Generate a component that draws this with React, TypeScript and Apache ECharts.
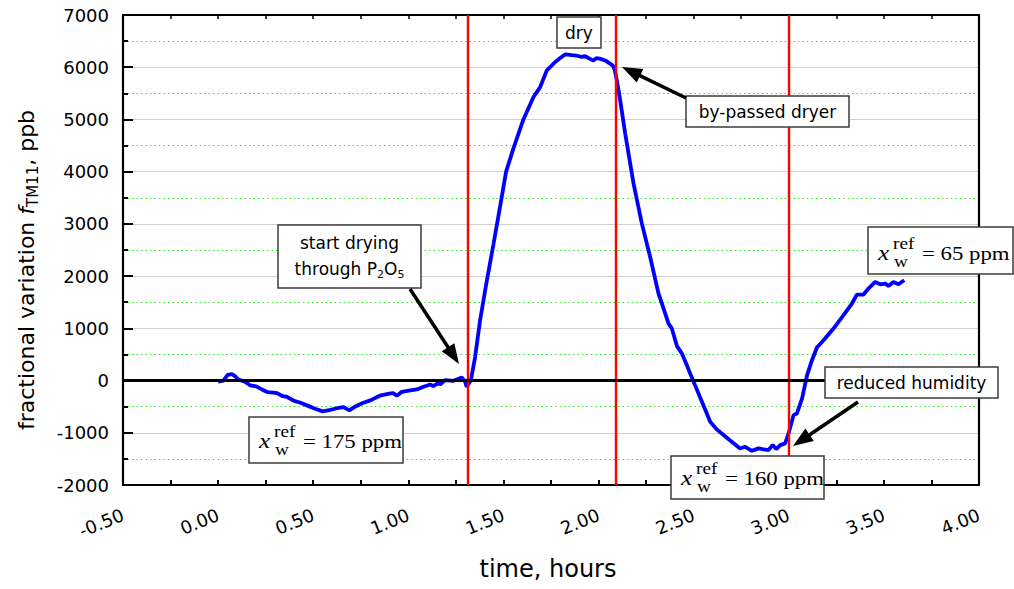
import React, { useEffect, useRef } from "react";
import * as echarts from "echarts";

// ---- data ----
const timeHours = [
  0.0, 0.028, 0.05, 0.072, 0.09, 0.107, 0.14, 0.168, 0.2, 0.23, 0.258, 0.29, 0.31, 0.34, 0.36, 0.4, 0.43,
  0.47, 0.51, 0.55, 0.59, 0.625, 0.66, 0.69, 0.72, 0.76, 0.8, 0.85, 0.9, 0.92, 0.94, 0.966, 1.01, 1.045,
  1.08, 1.115, 1.132, 1.158, 1.167, 1.193, 1.237, 1.281, 1.299, 1.307, 1.329, 1.351, 1.377, 1.413, 1.448,
  1.488, 1.514, 1.553, 1.605, 1.658, 1.693, 1.728, 1.772, 1.8, 1.824, 1.86, 1.886, 1.91, 1.93, 1.955,
  1.973, 1.99, 2.01, 2.035, 2.06, 2.075, 2.085, 2.096, 2.114, 2.14, 2.184, 2.228, 2.271, 2.315, 2.368,
  2.385, 2.412, 2.438, 2.46, 2.48, 2.5, 2.543, 2.587, 2.62, 2.657, 2.7, 2.744, 2.771, 2.806, 2.841, 2.87,
  2.893, 2.916, 2.934, 2.955, 2.981, 2.999, 3.025, 3.043, 3.07, 3.096, 3.122, 3.148, 3.183, 3.235, 3.288,
  3.332, 3.358, 3.393, 3.419, 3.454, 3.481, 3.507, 3.524, 3.55, 3.577, 3.607,
];
const variationPpb = [
  -20, 0, 110, 125, 80, 20, -20, -90, -110, -170, -220, -230, -240, -300, -310, -390, -420,
  -480, -540, -590, -560, -530, -510, -570, -500, -430, -380, -290, -250, -240, -290, -216, -190, -170,
  -120, -75, -107, -44, -75, 8, -5, 59, -25, -120, 8, 450, 1150, 1920, 2620,
  3450, 4000, 4450, 5000, 5430, 5620, 5940, 6100, 6180, 6245, 6230, 6220, 6200, 6210, 6160,
  6130, 6175, 6160, 6130, 6070, 6030, 5950, 5750, 5360, 4730, 3770, 3000, 2370, 1670, 1090,
  1000, 660, 520, 330, 150, -25, -400, -790, -930, -1044, -1170, -1300, -1268, -1345, -1299, -1320,
  -1331, -1236, -1312, -1236, -1203, -1012, -662, -630, -340, 100, 390, 633, 773, 996, 1251,
  1475, 1647, 1647, 1762, 1888, 1844, 1857, 1811, 1888, 1844, 1920,
];
const markerTimes = [1.314, 2.093, 2.995];
const xMin = -0.5;
const xMax = 4.0;
const xStep = 0.5;
const yMin = -2000;
const yMax = 7000;
const yStep = 1000;
const xwLabels = ["= 175 ppm", "= 160 ppm", "= 65 ppm"];

const SANS = '"DejaVu Sans"';
const SERIF = '"Liberation Serif"';

function arrow(x1: number, y1: number, x2: number, y2: number) {
  const headLen = 20, headW = 15;
  const dx = x2 - x1, dy = y2 - y1;
  const len = Math.hypot(dx, dy);
  const ux = dx / len, uy = dy / len;
  const nx = -uy, ny = ux;
  const bx = x2 - ux * headLen, by = y2 - uy * headLen;
  return [
    { type: "line", z: 100, shape: { x1, y1, x2: bx + ux * 3, y2: by + uy * 3 }, style: { stroke: "#000", lineWidth: 3.5 } },
    {
      type: "polygon", z: 100,
      shape: { points: [[x2, y2], [bx + (nx * headW) / 2, by + (ny * headW) / 2], [bx - (nx * headW) / 2, by - (ny * headW) / 2]] },
      style: { fill: "#000" },
    },
  ];
}

function box(x: number, y: number, w: number, h: number) {
  return { type: "rect", z: 100, shape: { x, y, width: w, height: h }, style: { fill: "#fff", stroke: "#3c3c3c", lineWidth: 1.5 } };
}

function sansText(text: string, x: number, y: number, size = 17) {
  return {
    type: "text", z: 101, x, y,
    style: { text, font: `${size}px ${SANS}`, fill: "#000", align: "center", verticalAlign: "middle" },
  };
}

function xwBox(bx: number, by: number, w: number, h: number, base: number, label: string) {
  const t = (text: string, dx: number, baseline: number, size: number, italic = false) => ({
    type: "text", z: 101, x: bx + dx, y: by + baseline - 0.34 * size, scaleX: 1.2, scaleY: 1,
    style: { text, font: `${italic ? "italic " : ""}${size}px ${SERIF}`, fill: "#000", align: "left", verticalAlign: "middle" },
  });
  return [
    box(bx, by, w, h),
    t("x", 10, base, 21, true),
    t("ref", 25, base - 11, 16),
    t("w", 26, base + 7, 16),
    t(label, 54, base, 19),
  ];
}

export default function App() {
  const ref = useRef<HTMLDivElement>(null);
  useEffect(() => {
    const chart = echarts.init(ref.current!, null, { renderer: "svg" });
    const data = timeHours.map((t, i) => [t, variationPpb[i]]);
    const markData: any[] = markerTimes.map((t) => ({
      xAxis: t,
      lineStyle: { color: "#ff0000", width: 2.4, type: "solid" },
    }));
    markData.push({ yAxis: 0, lineStyle: { color: "#000", width: 2.8, type: "solid" } });

    const axisLine = { show: true, onZero: false, lineStyle: { color: "#000", width: 2.2 } };

    const option: any = {
      animation: false,
      backgroundColor: "#fff",
      grid: { left: 123, top: 15, width: 856, height: 470, containLabel: false },
      xAxis: [
        {
          type: "value", position: "bottom", min: xMin, max: xMax, interval: xStep,
          axisLine,
          axisTick: { show: true, inside: true, length: 5, lineStyle: { color: "#000", width: 2 } },
          minorTick: { show: true, splitNumber: 2, length: 5, lineStyle: { color: "#000", width: 2 } },
          splitLine: { show: false },
          axisLabel: {
            show: true, rotate: 22, margin: 29, color: "#000", fontSize: 18, fontFamily: "DejaVu Sans",
            showMinLabel: true, showMaxLabel: true,
            formatter: (v: number) => v.toFixed(2),
          },
        },
        {
          type: "value", position: "top", min: xMin, max: xMax, interval: xStep,
          axisLine,
          axisTick: { show: true, inside: true, length: 4, lineStyle: { color: "#000", width: 1.5 } },
          minorTick: { show: true, splitNumber: 2, length: 4, lineStyle: { color: "#000", width: 1.5 } },
          splitLine: { show: false },
          axisLabel: { show: false },
        },
      ],
      yAxis: [
        {
          type: "value", position: "left", min: yMin, max: yMax, interval: yStep,
          axisLine,
          axisTick: { show: true, inside: true, length: 10, lineStyle: { color: "#000", width: 2 } },
          minorTick: { show: true, splitNumber: 2, length: 5, lineStyle: { color: "#000", width: 2 } },
          splitLine: { show: true, lineStyle: { color: "#cfcfcf", width: 1.2 } },
          minorSplitLine: { show: true, lineStyle: { color: "#22ee22", width: 1, type: [1.5, 3] } },
          axisLabel: {
            show: true, margin: 14, color: "#000", fontSize: 18, fontFamily: "DejaVu Sans",
            formatter: (v: number) => String(v),
          },
        },
        {
          type: "value", position: "right", min: yMin, max: yMax, interval: yStep,
          axisLine,
          axisTick: { show: false },
          splitLine: { show: false },
          axisLabel: { show: false },
        },
      ],
      series: [
        {
          type: "line",
          data,
          showSymbol: false,
          symbol: "none",
          lineStyle: { color: "#0000ff", width: 3.8 },
          z: 3,
          markLine: {
            silent: true,
            symbol: ["none", "none"],
            label: { show: false },
            data: markData,
          },
        },
      ],
      graphic: [
        {
          type: "text", z: 101, x: 26, y: 270, rotation: Math.PI / 2,
          style: {
            text: "{a|fractional variation }{i|f}{s|TM11}{a|, ppb}",
            align: "center", verticalAlign: "middle", fill: "#000",
            rich: {
              a: { fontSize: 22, fontFamily: "DejaVu Sans", lineHeight: 28, fill: "#000" },
              i: { fontSize: 22, fontFamily: "DejaVu Sans", fontStyle: "italic", lineHeight: 28, fill: "#000" },
              s: { fontSize: 15, fontFamily: "DejaVu Sans", lineHeight: 15, verticalAlign: "bottom", fill: "#000" },
            },
          },
        },
        sansText("time, hours", 548, 569, 24),
        box(278, 225, 143, 63),
        sansText("start drying", 349.5, 243, 17),
        {
          type: "text", z: 101, x: 349.5, y: 269,
          style: {
            text: "{a|through P}{s|2}{a|O}{s|5}",
            align: "center", verticalAlign: "middle", fill: "#000",
            rich: {
              a: { fontSize: 17, fontFamily: "DejaVu Sans", lineHeight: 22, fill: "#000" },
              s: { fontSize: 11, fontFamily: "DejaVu Sans", lineHeight: 12, verticalAlign: "bottom", fill: "#000" },
            },
          },
        },
        ...arrow(410, 289, 459, 364),
        box(557, 17, 44, 31),
        sansText("dry", 579, 32.5, 17),
        box(686, 96, 163, 31),
        sansText("by-passed dryer", 767.5, 111.5, 17),
        ...arrow(686, 98, 622, 67),
        box(825, 367, 173, 31),
        sansText("reduced humidity", 911.5, 382.5, 17),
        ...arrow(858, 402, 793, 446),
        ...xwBox(249, 417, 154, 46, 31, xwLabels[0]),
        ...xwBox(671, 456, 153, 43, 29, xwLabels[1]),
        ...xwBox(868, 227, 145, 47, 33, xwLabels[2]),
      ],
    };
    chart.setOption(option);
    return () => chart.dispose();
  }, []);
  return (
    <div
      ref={ref}
      style={{ position: "absolute", left: 0, top: 0, width: 1014, height: 589, background: "#fff" }}
    />
  );
}
